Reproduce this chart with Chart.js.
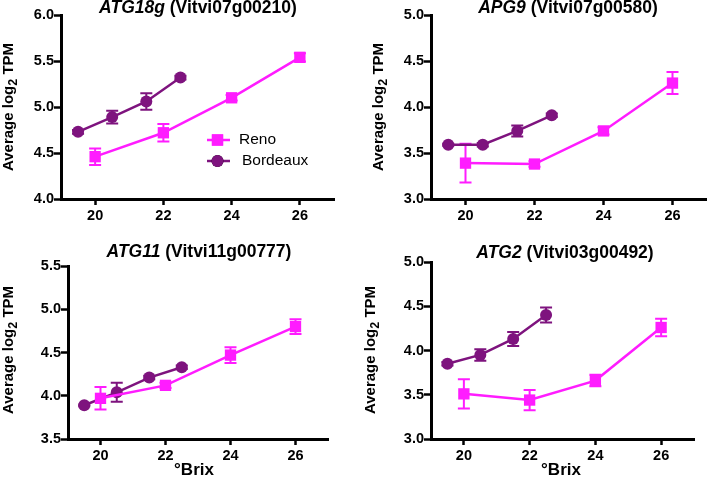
<!DOCTYPE html>
<html>
<head>
<meta charset="utf-8">
<script src="https://cdn.jsdelivr.net/npm/chart.js@4"></script>
<style>
    body { margin: 0; background: #fff; width: 707px; height: 480px; overflow: hidden; position: relative; font-family: "Liberation Sans", Arial, sans-serif; }
    canvas { position: absolute; }
    .title { position: absolute; font-weight: bold; font-size: 17.5px; white-space: nowrap; transform: translateX(-50%); line-height: 17px; }
    .ylab { position: absolute; font-weight: bold; font-size: 15px; white-space: nowrap; transform: translate(-50%, -50%) rotate(-90deg); }
    .xlab { position: absolute; font-weight: bold; font-size: 17px; white-space: nowrap; transform: translateX(-50%); }
</style>
</head>
<body>
<canvas id="c0"></canvas>
<canvas id="c1"></canvas>
<canvas id="c2"></canvas>
<canvas id="c3"></canvas>

<div class="title" style="left:198px; top:-1px;"><i>ATG18g</i> (Vitvi07g00210)</div>
<div class="title" style="left:568px; top:-1px;"><i>APG9</i> (Vitvi07g00580)</div>
<div class="title" style="left:199px; top:243px;"><i>ATG11</i> (Vitvi11g00777)</div>
<div class="title" style="left:565px; top:244px;"><i>ATG2</i> (Vitvi03g00492)</div>

<div class="ylab" style="left:9px; top:107px;">Average log<sub>2</sub> TPM</div>
<div class="ylab" style="left:379px; top:107px;">Average log<sub>2</sub> TPM</div>
<div class="ylab" style="left:9px; top:350px;">Average log<sub>2</sub> TPM</div>
<div class="ylab" style="left:371px; top:350px;">Average log<sub>2</sub> TPM</div>

<div class="xlab" style="left:194px; top:460px;">°Brix</div>
<div class="xlab" style="left:561px; top:460px;">°Brix</div>

<script>
// 資料
const seriesNames = ['Reno', 'Bordeaux'];
const renoBrix = [20, 22, 24, 26];
const bordeauxBrix = [19.5, 20.5, 21.5, 22.5];
const xTicks = [20, 22, 24, 26];

const geneNames = ['ATG18g', 'APG9', 'ATG11', 'ATG2'];

const atg18gReno = [4.46, 4.72, 5.10, 5.54];
const atg18gRenoErr = [0.09, 0.095, 0.03, 0.045];
const atg18gBordeaux = [4.73, 4.89, 5.06, 5.32];
const atg18gBordeauxErr = [0.02, 0.07, 0.09, 0.02];

const apg9Reno = [3.39, 3.38, 3.74, 4.26];
const apg9RenoErr = [0.21, 0.03, 0.04, 0.12];
const apg9Bordeaux = [3.59, 3.59, 3.74, 3.91];
const apg9BordeauxErr = [0.01, 0.02, 0.06, 0.02];

const atg11Reno = [3.97, 4.12, 4.47, 4.80];
const atg11RenoErr = [0.13, 0.03, 0.09, 0.085];
const atg11Bordeaux = [3.89, 4.04, 4.21, 4.33];
const atg11BordeauxErr = [0.01, 0.11, 0.02, 0.02];

const atg2Reno = [3.51, 3.44, 3.66, 4.26];
const atg2RenoErr = [0.165, 0.115, 0.065, 0.10];
const atg2Bordeaux = [3.85, 3.95, 4.13, 4.40];
const atg2BordeauxErr = [0.02, 0.065, 0.08, 0.085];

const yRanges = [[4, 6], [3, 5], [3.5, 5.5], [3, 5]];

const renoColor = '#FF1CFF';
const bordeauxColor = '#7E137E';

// 面板位置 (軸線的左、上、下、右)
const panels = [
    { ax: 61, top: 15, bottom: 199, right: 334 },
    { ax: 431, top: 15, bottom: 199, right: 707 },
    { ax: 68, top: 266, bottom: 439, right: 328 },
    { ax: 431, top: 262, bottom: 439, right: 694 }
];

const panelData = [
    [atg18gReno, atg18gRenoErr, atg18gBordeaux, atg18gBordeauxErr],
    [apg9Reno, apg9RenoErr, apg9Bordeaux, apg9BordeauxErr],
    [atg11Reno, atg11RenoErr, atg11Bordeaux, atg11BordeauxErr],
    [atg2Reno, atg2RenoErr, atg2Bordeaux, atg2BordeauxErr]
];

const Y_AXIS_W = 60, X_AXIS_H = 32, PAD_TOP = 10, PAD_RIGHT = 12;

// 誤差線
const errorBars = {
    id: 'errorBars',
    beforeDatasetsDraw(chart) {
        const ctx = chart.ctx;
        const xs = chart.scales.x, ys = chart.scales.y;
        chart.data.datasets.forEach(ds => {
            ctx.save();
            ctx.strokeStyle = ds.borderColor;
            ctx.lineWidth = 2;
            ds.data.forEach((p, i) => {
                const e = ds.errors[i];
                const px = xs.getPixelForValue(p.x);
                const top = ys.getPixelForValue(p.y + e);
                const bot = ys.getPixelForValue(p.y - e);
                ctx.beginPath();
                ctx.moveTo(px, top); ctx.lineTo(px, bot);
                ctx.moveTo(px - 6, top); ctx.lineTo(px + 6, top);
                ctx.moveTo(px - 6, bot); ctx.lineTo(px + 6, bot);
                ctx.stroke();
            });
            ctx.restore();
        });
    }
};

// 圖內圖例 (只畫在第一張)
const insideLegend = {
    id: 'insideLegend',
    afterDraw(chart) {
        if (!chart.options.plugins.insideLegend?.show) return;
        const ctx = chart.ctx;
        const a = chart.chartArea;
        const items = [
            { x: a.left + 154, y: a.top + 125, ds: chart.data.datasets[0] },
            { x: a.left + 154, y: a.top + 146, ds: chart.data.datasets[1] }
        ];
        ctx.save();
        items.forEach((it, i) => {
            ctx.strokeStyle = it.ds.borderColor;
            ctx.lineWidth = 2.5;
            ctx.beginPath();
            ctx.moveTo(it.x - 8, it.y); ctx.lineTo(it.x + 15, it.y);
            ctx.stroke();
            Chart.helpers.drawPoint(ctx, {
                pointStyle: it.ds.pointStyle, radius: it.ds.pointRadius, borderWidth: 0
            }, it.x + 2.5, it.y);
            ctx.fillStyle = it.ds.backgroundColor;
            ctx.fill();
            ctx.fillStyle = '#000';
            ctx.font = '15.5px "Liberation Sans", Arial, sans-serif';
            ctx.textBaseline = 'middle';
            ctx.fillText(it.ds.label, it.x + 24 + i * 3, it.y);
        });
        ctx.restore();
    }
};

function makeChart(idx) {
    const p = panels[idx];
    const cv = document.getElementById('c' + idx);
    const w = p.right - p.ax + Y_AXIS_W + PAD_RIGHT;
    const h = p.bottom - p.top + PAD_TOP + X_AXIS_H;
    cv.width = w; cv.height = h;
    cv.style.left = (p.ax - Y_AXIS_W) + 'px';
    cv.style.top = (p.top - PAD_TOP) + 'px';
    cv.style.width = w + 'px'; cv.style.height = h + 'px';

    const [reno, renoErr, bord, bordErr] = panelData[idx];
    const tickFont = { family: '"Liberation Sans", Arial, sans-serif', size: 14.5, weight: 'bold' };

    return new Chart(cv.getContext('2d'), {
        type: 'line',
        data: {
            datasets: [{
                label: seriesNames[0],
                data: renoBrix.map((x, i) => ({ x, y: reno[i] })),
                errors: renoErr,
                borderColor: renoColor,
                backgroundColor: renoColor,
                borderWidth: 2.5,
                pointStyle: 'rect',
                pointRadius: 8,
                pointBorderWidth: 0,
                clip: false
            }, {
                label: seriesNames[1],
                data: bordeauxBrix.map((x, i) => ({ x, y: bord[i] })),
                errors: bordErr,
                borderColor: bordeauxColor,
                backgroundColor: bordeauxColor,
                borderWidth: 2.5,
                pointStyle: 'circle',
                pointRadius: 6,
                pointBorderWidth: 0,
                clip: false
            }]
        },
        options: {
            responsive: false,
            animation: false,
            devicePixelRatio: 1,
            layout: { padding: { top: PAD_TOP, right: PAD_RIGHT, left: 0, bottom: 0 } },
            plugins: {
                legend: { display: false },
                tooltip: { enabled: false },
                insideLegend: { show: idx === 0 }
            },
            scales: {
                x: {
                    type: 'linear',
                    min: 19, max: 27,
                    afterFit: s => { s.height = X_AXIS_H; },
                    afterBuildTicks: s => { s.ticks = xTicks.map(v => ({ value: v })); },
                    border: { display: true, color: '#000', width: 3 },
                    grid: { drawOnChartArea: false, drawTicks: true, tickLength: 6, tickColor: '#000', tickWidth: 2.5 },
                    ticks: { color: '#000', font: tickFont, padding: 2, maxRotation: 0 }
                },
                y: {
                    min: yRanges[idx][0], max: yRanges[idx][1],
                    afterFit: s => { s.width = Y_AXIS_W; },
                    border: { display: true, color: '#000', width: 3 },
                    grid: { drawOnChartArea: false, drawTicks: true, tickLength: 7, tickColor: '#000', tickWidth: 2.5 },
                    ticks: { color: '#000', font: tickFont, stepSize: 0.5, padding: 0, callback: v => v.toFixed(1) }
                }
            }
        },
        plugins: [errorBars, insideLegend]
    });
}

geneNames.forEach((g, i) => makeChart(i));
</script>
</body>
</html>
